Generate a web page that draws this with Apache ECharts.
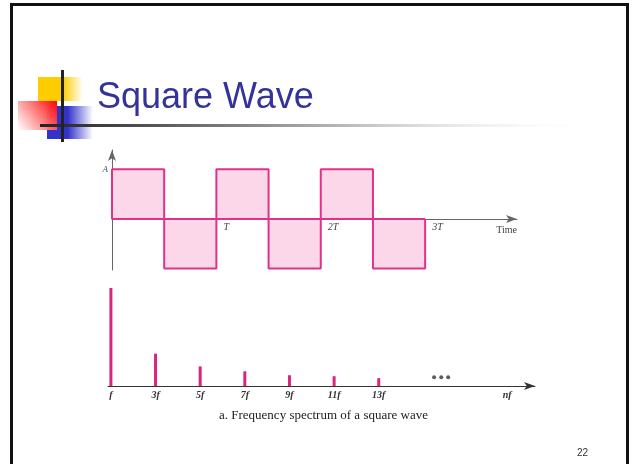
<!DOCTYPE html>
<html>
<head>
<meta charset="utf-8">
<script src="https://cdn.jsdelivr.net/npm/echarts@6/dist/echarts.min.js"></script>
<style>
  html, body { margin: 0; padding: 0; background: #fff; }
  #main { width: 632px; height: 464px; }
</style>
</head>
<body>
<div id="main"></div>
<script>
// square wave outline, time in periods T, level in units of A
const waveTimes = [0, 0, 0.5, 0.5, 1, 1, 1.5, 1.5, 2, 2, 2.5, 2.5, 3, 3];
const waveLevels = [0, 1, 1, -1, -1, 1, 1, -1, -1, 1, 1, -1, -1, 0];
const timeTickValues = [1, 2, 3];
const timeTickLabels = ['T', '2T', '3T'];

// odd harmonics and their relative amplitude
const harmonics = [1, 3, 5, 7, 9, 11, 13];
const amplitudes = [1, 0.33, 0.2, 0.15, 0.11, 0.1, 0.08];
const freqTickValues = [1, 3, 5, 7, 9, 11, 13, 18.75];
const freqTickLabels = ['f', '3f', '5f', '7f', '9f', '11f', '13f', 'nf'];
const ellipsisAt = [15.48, 15.8, 16.11];
const ellipsisLevel = 0.09;

const pink = '#e0328a';
const pinkFill = '#fcd7ea';
const serif = 'Liberation Serif';

const wave = waveTimes.map((t, i) => [t, waveLevels[i]]);
const spectrum = harmonics.map((n, i) => [n, amplitudes[i]]);
const dots = ellipsisAt.map(n => [n, ellipsisLevel]);

const chart = echarts.init(document.getElementById('main'));
chart.setOption({
  animation: false,
  title: [
    {
      text: 'Square Wave',
      left: 92, top: 75,
      textStyle: { fontFamily: 'Liberation Sans', fontSize: 36, fontWeight: 'normal', color: '#333399' }
    },
    {
      text: 'a. Frequency spectrum of a square wave',
      left: 214, top: 404,
      textStyle: { fontFamily: serif, fontSize: 13, fontWeight: 'normal', color: '#222' }
    },
    {
      text: '22',
      left: 572, top: 443,
      textStyle: { fontFamily: 'Liberation Sans', fontSize: 10, fontWeight: 'normal', color: '#333' }
    }
  ],
  // slide template decoration
  graphic: [
    { type: 'rect', shape: { x: 11.5, y: 4.5, width: 616, height: 480 }, style: { fill: 'none', stroke: '#111', lineWidth: 3 } },
    { type: 'rect', shape: { x: 38, y: 77, width: 45, height: 24 },
      style: { fill: new echarts.graphic.LinearGradient(0, 0, 1, 0, [
        { offset: 0, color: '#ffcc00' }, { offset: 0.55, color: '#ffcc00' }, { offset: 1, color: 'rgba(255,204,0,0)' }]) } },
    { type: 'rect', shape: { x: 47, y: 106, width: 46, height: 33 },
      style: { fill: new echarts.graphic.LinearGradient(0, 0, 1, 0, [
        { offset: 0, color: '#3333cc' }, { offset: 0.45, color: '#3333cc' }, { offset: 1, color: 'rgba(51,51,204,0)' }]) } },
    { type: 'rect', shape: { x: 18, y: 101, width: 39, height: 29 },
      style: { fill: new echarts.graphic.LinearGradient(0, 1, 1, 0, [
        { offset: 0, color: 'rgba(255,255,255,0.9)' }, { offset: 1, color: '#ff0000' }]) } },
    { type: 'rect', shape: { x: 40, y: 124, width: 560, height: 3 },
      style: { fill: new echarts.graphic.LinearGradient(0, 0, 1, 0, [
        { offset: 0, color: '#222' }, { offset: 0.2, color: '#555' }, { offset: 0.55, color: '#bbb' }, { offset: 1, color: 'rgba(255,255,255,0)' }]) } },
    { type: 'rect', shape: { x: 61, y: 70, width: 3, height: 72 }, style: { fill: '#222' } }
  ],
  grid: [
    { left: 112, top: 150, width: 405, height: 120 },
    { left: 108, top: 288, width: 427, height: 98 }
  ],
  xAxis: [
    {
      type: 'value', gridIndex: 0, min: 0, max: 3.88,
      name: 'Time', nameLocation: 'end', nameGap: 0,
      nameTextStyle: { fontFamily: serif, fontSize: 10, color: '#444', align: 'right', verticalAlign: 'top', padding: [6, 0, 0, 0] },
      axisLine: { onZero: true, symbol: ['none', 'arrow'], symbolSize: [6, 11], lineStyle: { color: '#666', width: 1 } },
      axisTick: { show: false },
      splitLine: { show: false },
      axisLabel: {
        customValues: timeTickValues,
        formatter: v => timeTickLabels[timeTickValues.indexOf(v)],
        fontFamily: serif, fontStyle: 'italic', fontSize: 10, color: '#444',
        align: 'left', margin: -48, padding: [0, 0, 0, 7]
      }
    },
    {
      type: 'value', gridIndex: 1, min: 0.87, max: 20,
      axisLine: { symbol: ['none', 'arrow'], symbolSize: [6, 11], lineStyle: { color: '#333', width: 1 } },
      axisTick: { show: false },
      splitLine: { show: false },
      axisLabel: {
        customValues: freqTickValues,
        formatter: v => freqTickLabels[freqTickValues.indexOf(v)],
        fontFamily: serif, fontStyle: 'italic', fontWeight: 'bold', fontSize: 10, color: '#333', margin: 4
      }
    }
  ],
  yAxis: [
    {
      type: 'value', gridIndex: 0, min: -1.03, max: 1.39,
      axisLine: { show: true, symbol: ['none', 'arrow'], symbolSize: [6, 11], lineStyle: { color: '#666', width: 1 } },
      axisTick: { show: false },
      splitLine: { show: false },
      axisLabel: {
        customValues: [1],
        formatter: () => 'A',
        fontFamily: serif, fontStyle: 'italic', fontSize: 9, color: '#555', margin: 4
      }
    },
    { type: 'value', gridIndex: 1, min: 0, max: 1, show: false }
  ],
  series: [
    {
      type: 'line', xAxisIndex: 0, yAxisIndex: 0,
      data: wave,
      symbol: 'none',
      lineStyle: { color: pink, width: 2 },
      areaStyle: { color: pinkFill, opacity: 1, origin: 0 },
      markLine: {
        silent: true, symbol: 'none', label: { show: false },
        lineStyle: { color: pink, width: 2, type: 'solid' },
        data: [[{ coord: [waveTimes[0], 0] }, { coord: [waveTimes[waveTimes.length - 1], 0] }]]
      },
      z: 3
    },
    {
      type: 'bar', xAxisIndex: 1, yAxisIndex: 1,
      data: spectrum,
      barWidth: 3,
      itemStyle: { color: '#d9257f' }
    },
    {
      type: 'scatter', xAxisIndex: 1, yAxisIndex: 1,
      data: dots,
      symbolSize: 4,
      itemStyle: { color: '#333' }
    }
  ]
});
</script>
</body>
</html>
